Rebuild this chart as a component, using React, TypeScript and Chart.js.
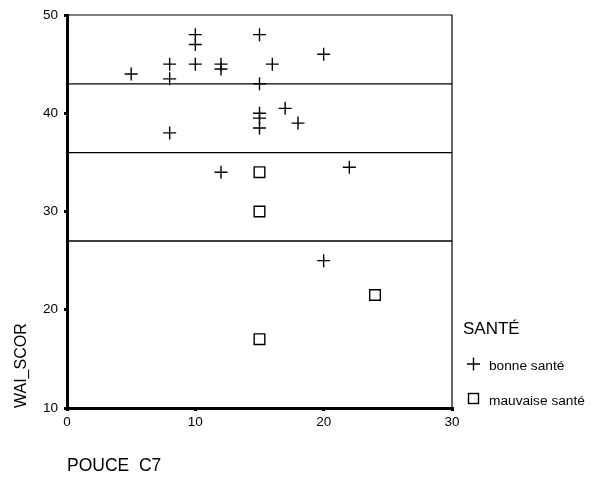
import React, { useEffect, useRef } from "react";
import { Chart, registerables } from "chart.js";

Chart.register(...registerables);

const bonneX = [5, 8, 8, 8, 10, 10, 10, 12, 12, 12, 15, 15, 15, 15, 15, 16, 17, 18, 20, 20, 22];
const bonneY = [44, 45, 43.5, 38, 48, 47, 45, 45, 44.5, 34, 48, 43, 40, 39.5, 38.5, 45, 40.5, 39, 46, 25, 34.5];
const mauvaiseX = [15, 15, 15, 24];
const mauvaiseY = [34, 30, 17, 21.5];
const refLines = [43, 36, 27];
const xRange = [0, 30];
const yRange = [10, 50];
const seriesNames = ["bonne santé", "mauvaise santé"];
const legendTitle = "SANTÉ";
const xTitle = "POUCE  C7";
const yTitle = "WAI_SCOR";

const FONT = "'Liberation Sans', Arial, sans-serif";

const framePlugin = {
  id: "frame",
  afterDraw(chart: any) {
    const { ctx, chartArea } = chart;
    ctx.save();
    ctx.strokeStyle = "#000";
    ctx.lineWidth = 1.2;
    ctx.beginPath();
    ctx.moveTo(chartArea.left, chartArea.top);
    ctx.lineTo(chartArea.right, chartArea.top);
    ctx.lineTo(chartArea.right, chartArea.bottom);
    ctx.stroke();
    ctx.restore();
  },
};

const legendPlugin = {
  id: "customLegend",
  afterDraw(chart: any) {
    const { ctx } = chart;
    ctx.save();
    ctx.fillStyle = "#000";
    ctx.strokeStyle = "#000";
    ctx.textBaseline = "middle";
    ctx.textAlign = "left";
    ctx.font = `17px ${FONT}`;
    ctx.fillText(legendTitle, 463, 329);
    ctx.lineWidth = 1.4;
    // plus
    ctx.beginPath();
    ctx.moveTo(467, 364);
    ctx.lineTo(480, 364);
    ctx.moveTo(473.5, 357.5);
    ctx.lineTo(473.5, 370.5);
    ctx.stroke();
    // square
    ctx.strokeRect(468.5, 393.5, 10, 10);
    ctx.font = `13.7px ${FONT}`;
    ctx.fillText(seriesNames[0], 489, 366);
    ctx.fillText(seriesNames[1], 489, 401);
    ctx.restore();
  },
};

export default function App() {
  const ref = useRef<HTMLCanvasElement>(null);
  useEffect(() => {
    if (!ref.current) return;
    Chart.defaults.font.family = FONT;
    Chart.defaults.color = "#000";
    const lineSets = refLines.map((v) => ({
      label: "ref" + v,
      data: [
        { x: xRange[0], y: v },
        { x: xRange[1], y: v },
      ],
      showLine: true,
      pointRadius: 0,
      borderColor: "#000",
      borderWidth: 1.3,
      fill: false,
    }));
    const chart = new Chart(ref.current, {
      type: "scatter",
      data: {
        datasets: [
          ...lineSets,
          {
            label: seriesNames[0],
            data: bonneX.map((x, i) => ({ x, y: bonneY[i] })),
            pointStyle: "cross",
            pointRadius: 6.5,
            borderColor: "#000",
            backgroundColor: "#000",
            borderWidth: 1.4,
          },
          {
            label: seriesNames[1],
            data: mauvaiseX.map((x, i) => ({ x, y: mauvaiseY[i] })),
            pointStyle: "rect",
            pointRadius: 7.5,
            borderColor: "#000",
            backgroundColor: "#fff",
            borderWidth: 1.4,
          },
        ] as any,
      },
      options: {
        animation: false,
        responsive: true,
        maintainAspectRatio: false,
        layout: { padding: { left: 0, top: 15, right: 139, bottom: 0 } },
        plugins: {
          legend: { display: false },
          tooltip: { enabled: false },
        },
        scales: {
          x: {
            type: "linear",
            min: xRange[0],
            max: xRange[1],
            ticks: { stepSize: 10, font: { size: 13.5 }, color: "#000", padding: 3 },
            grid: {
              display: true,
              drawOnChartArea: false,
              drawTicks: true,
              tickLength: 3,
              lineWidth: 3,
              color: "#000",
            },
            border: { display: true, width: 3, color: "#000" },
            title: {
              display: true,
              text: xTitle,
              align: "start",
              font: { size: 17.5 },
              color: "#000",
              padding: { top: 0, bottom: 3 },
            },
            afterFit(scale: any) {
              scale.height = 72;
            },
          },
          y: {
            type: "linear",
            min: yRange[0],
            max: yRange[1],
            ticks: { stepSize: 10, font: { size: 13.5 }, color: "#000", padding: 6 },
            grid: {
              display: true,
              drawOnChartArea: false,
              drawTicks: true,
              tickLength: 3,
              lineWidth: 3,
              color: "#000",
            },
            border: { display: true, width: 3, color: "#000" },
            title: {
              display: true,
              text: yTitle,
              align: "start",
              font: { size: 16 },
              color: "#000",
              padding: { top: 12, bottom: 0 },
            },
            afterFit(scale: any) {
              scale.width = 67;
            },
          },
        },
      } as any,
      plugins: [framePlugin, legendPlugin],
    });
    return () => chart.destroy();
  }, []);
  return (
    <div style={{ position: "fixed", left: 0, top: 0, width: 591, height: 480, background: "#fff" }}>
      <canvas ref={ref} />
    </div>
  );
}
